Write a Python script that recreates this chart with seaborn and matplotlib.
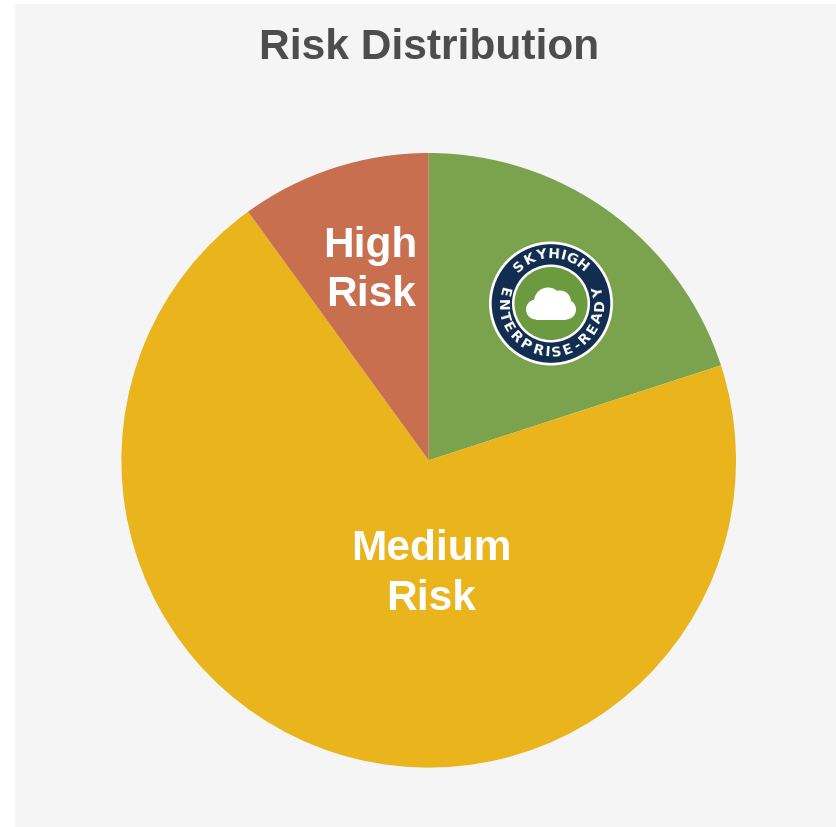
import numpy as np
import matplotlib
matplotlib.use("Agg")
import matplotlib.pyplot as plt
from matplotlib.patches import Circle
from matplotlib.textpath import TextPath
from matplotlib.font_manager import FontProperties
import seaborn as sns

# Data
categories = ["Low Risk", "Medium Risk", "High Risk"]
shares = [20, 70, 10]
colors = ["#7BA34D", "#E9B41C", "#C76F4F"]
title = "Risk Distribution"
badge_top = "SKYHIGH"
badge_bottom = "ENTERPRISE-READY"

sns.set_theme(style="white", palette=sns.color_palette(colors))
plt.rcParams["font.family"] = ["Liberation Sans", "DejaVu Sans"]

W, H = 836, 827
fig = plt.figure(figsize=(W / 100, H / 100), dpi=100, facecolor="white")

def px_axes(x0, y0, x1, y1, **kw):
    return fig.add_axes([x0 / W, 1 - y1 / H, (x1 - x0) / W, (y1 - y0) / H], **kw)

bg = px_axes(15, 4, 836, 827, facecolor="#F5F5F5")
bg.set_xticks([]); bg.set_yticks([])
sns.despine(ax=bg, left=True, bottom=True)

cx, cy, r = 428.7, 460.3, 307.3
pie_ax = px_axes(cx - r, cy - r, cx + r, cy + r)
pie_ax.patch.set_alpha(0)
pie_ax.pie(shares, colors=colors, startangle=90, counterclock=False, radius=1.0,
           wedgeprops=dict(linewidth=0, edgecolor="none"))
pie_ax.set_xlim(-1, 1); pie_ax.set_ylim(-1, 1)
for w in pie_ax.patches:
    w.set_clip_on(False)

ov = px_axes(0, 0, W, H)
ov.set_xlim(0, W); ov.set_ylim(H, 0)
ov.patch.set_alpha(0)
ov.axis("off")

ov.text(429, 48, title, ha="center", va="center", fontsize=30.6, fontweight="bold", color="#4D4D4D")
for txt, x, y in [("High", 370.5, 246.5), ("Risk", 371, 295.5), ("Medium", 431.5, 549.5), ("Risk", 431.5, 598.5)]:
    ov.text(x, y, txt, ha="center", va="center", fontsize=30.5, fontweight="bold", color="white")

# Badge
bx, by = 551, 303.5
ov.add_patch(Circle((bx, by), 62, fc="white", ec="none"))
ov.add_patch(Circle((bx, by), 59.3, fc="#132D50", ec="none"))
ov.add_patch(Circle((bx, by), 39, fc="white", ec="none"))
ov.add_patch(Circle((bx, by), 36.5, fc="#6B9A3F", ec="none"))
# Cloud
for dx, dy, rad in [(-15, 6, 10), (-3, -2, 14), (9, -2, 11), (15, 6, 10)]:
    ov.add_patch(Circle((bx + dx, by + dy), rad, fc="white", ec="none"))
ov.add_patch(plt.Rectangle((bx - 15, by + 1), 30, 15, fc="white", ec="none"))

badge_font = FontProperties(family="DejaVu Sans", weight="bold")
badge_size = 10.2

def arc_text(s, radius, top=True, tracking=1.0):
    sizes = []
    for ch in s:
        tp = TextPath((0, 0), ch, size=badge_size * 100 / 72, prop=badge_font)
        bb = tp.get_extents()
        sizes.append(bb.x1 + max(bb.x0, 0) + tracking)
    total = sum(sizes)
    pos = -total / 2
    for ch, w in zip(s, sizes):
        mid = pos + w / 2
        pos += w
        theta = mid / radius
        if top:
            x, y = bx + radius * np.sin(theta), by - radius * np.cos(theta)
            rot = -np.rad2deg(theta)
        else:
            x, y = bx + radius * np.sin(theta), by + radius * np.cos(theta)
            rot = np.rad2deg(theta)
        ov.text(x, y, ch, ha="center", va="center", rotation=rot, rotation_mode="anchor",
                fontproperties=badge_font, fontsize=badge_size, color="white")

arc_text(badge_top, 49, top=True, tracking=1.0)
arc_text(badge_bottom, 49, top=False, tracking=1.6)

fig.savefig("out.png", dpi=100, facecolor="white")
